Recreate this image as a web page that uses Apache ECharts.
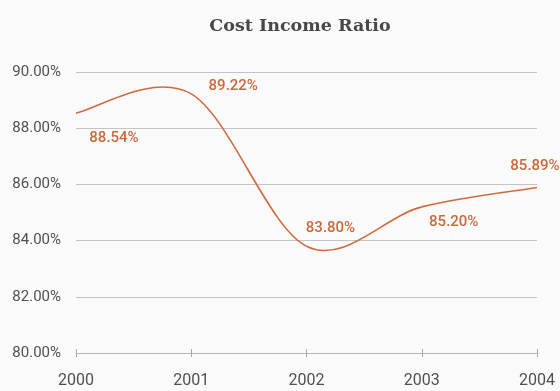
<!DOCTYPE html>
<html>
<head>
<meta charset="utf-8">
<script src="https://cdn.jsdelivr.net/npm/echarts@6/dist/echarts.min.js"></script>
<style>
  html, body { margin: 0; padding: 0; background: #fafafa; }
  #chart { width: 560px; height: 391px; }
</style>
</head>
<body>
<div id="chart"></div>
<script>
// Cost income ratio by year (%)
const years = ['2000', '2001', '2002', '2003', '2004'];
const ratios = [88.54, 89.22, 83.80, 85.20, 85.89];
// Offsets of each value label from its point, in px
const labelOffsets = [[38, 25], [42, -8], [24, -18], [32, 15], [-2, -21]];

const accent = '#cf6a3f';
const labelColor = '#c9693d';
const condensed = '"Roboto", sans-serif';

// Cardinal (Catmull-Rom) spline segment from point i to i+1,
// positioned through the chart's own coordinate system.
function renderSegment(params, api) {
  const i = params.dataIndex;
  if (i >= ratios.length - 1) return null;
  const pt = k => {
    const j = Math.max(0, Math.min(ratios.length - 1, k));
    return api.coord([j, ratios[j]]);
  };
  const p0 = pt(i - 1), p1 = pt(i), p2 = pt(i + 1), p3 = pt(i + 2);
  const t = 1 / 6;
  return {
    type: 'bezierCurve',
    shape: {
      x1: p1[0], y1: p1[1],
      cpx1: p1[0] + (p2[0] - p0[0]) * t, cpy1: p1[1] + (p2[1] - p0[1]) * t,
      cpx2: p2[0] - (p3[0] - p1[0]) * t, cpy2: p2[1] - (p3[1] - p1[1]) * t,
      x2: p2[0], y2: p2[1]
    },
    style: { fill: null, stroke: accent, lineWidth: 1.6 }
  };
}

const chart = echarts.init(document.getElementById('chart'));
chart.setOption({
  backgroundColor: '#fafafa',
  animation: false,
  title: {
    text: 'Cost Income Ratio',
    left: 295,
    textAlign: 'center',
    top: 12,
    textStyle: { fontFamily: '"DejaVu Serif", serif', fontWeight: 'bold', fontSize: 17.5, color: '#484848' }
  },
  grid: { left: 76, right: 23, top: 72, bottom: 38 },
  xAxis: [{
    type: 'category',
    data: years,
    boundaryGap: false,
    axisLine: { lineStyle: { color: '#b8b8b8', width: 1 } },
    axisTick: { show: true, length: 4, lineStyle: { color: '#a8a8a8' } },
    axisLabel: { color: '#505050', fontFamily: condensed, fontSize: 16, margin: 20 }
  }, {
    // inner half of the tick marks so they cross the axis line
    type: 'category',
    data: years,
    boundaryGap: false,
    position: 'bottom',
    axisLine: { show: false },
    axisTick: { show: true, inside: true, length: 4, lineStyle: { color: '#a8a8a8' } },
    axisLabel: { show: false },
    splitLine: { show: false }
  }],
  yAxis: {
    type: 'value',
    min: 80,
    max: 90,
    interval: 2,
    axisLine: { show: false },
    axisTick: { show: false },
    axisLabel: {
      color: '#505050', fontFamily: condensed, fontSize: 15, margin: 15,
      formatter: v => v.toFixed(2) + '%'
    },
    splitLine: { lineStyle: { color: '#c4c4c4', width: 1 } }
  },
  series: [{
    type: 'custom',
    renderItem: renderSegment,
    data: ratios.map((v, i) => [i, v]),
    encode: { x: 0, y: 1 },
    silent: true,
    z: 3
  }, {
    type: 'line',
    data: ratios.map((v, i) => ({
      value: v,
      label: { offset: labelOffsets[i] }
    })),
    symbol: 'circle',
    symbolSize: 0,
    showSymbol: true,
    lineStyle: { opacity: 0 },
    itemStyle: { color: accent },
    label: {
      show: true,
      position: 'inside',
      color: labelColor,
      fontFamily: condensed,
      fontWeight: 500,
      fontSize: 15,
      formatter: p => p.value.toFixed(2) + '%'
    },
    z: 4
  }]
});
</script>
</body>
</html>
